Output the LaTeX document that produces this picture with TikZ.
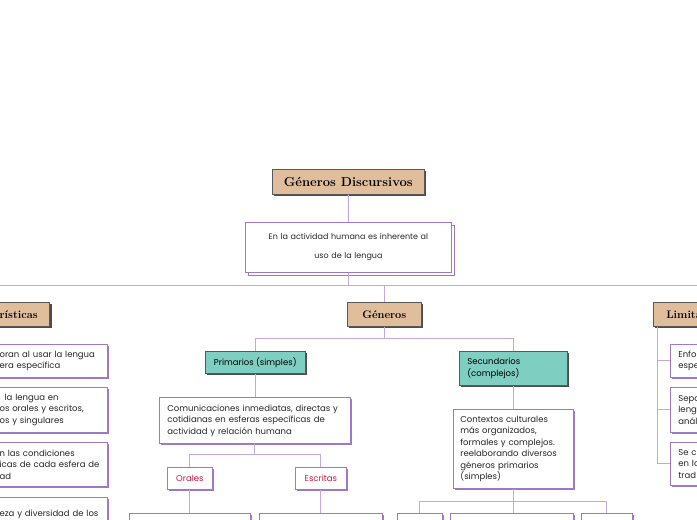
\documentclass[tikz,border=0pt]{standalone}
\usepackage{fontspec}
\setsansfont{Poppins}
\usetikzlibrary{positioning, shadows}
\definecolor{tanfill}{HTML}{E0BE9C}
\definecolor{tealfill}{HTML}{7ECFC2}
\definecolor{boxpurple}{HTML}{9F78C9}
\definecolor{linkpurple}{HTML}{C4A7DE}
\definecolor{tagred}{HTML}{D4163F}
\tikzset{
  topic/.style = {rectangle, draw=black!65, fill=tanfill, line width=0.6pt, inner xsep=10pt, minimum height=24pt,
    font=\fontsize{11}{12}\selectfont\bfseries,
    general shadow={shadow xshift=2pt, shadow yshift=-2pt, fill=black!70}},
  subtopic/.style = {topic, fill=tealfill, inner xsep=4pt, font=\sffamily\fontsize{8.5}{11.5}\selectfont},
  box/.style = {rectangle, draw=boxpurple, fill=white, line width=0.8pt, text=black!85,
    font=\sffamily\fontsize{8.5}{11.5}\selectfont},
  leaf/.style = {box, align=left, general shadow={shadow xshift=1.5pt, shadow yshift=-1.5pt, fill=boxpurple}},
  note/.style = {box, align=center, general shadow={shadow xshift=2.5pt, shadow yshift=-2.5pt, draw=boxpurple, fill=white, line width=0.8pt}},
  tag/.style = {leaf, text=tagred, align=center, minimum height=22pt},
  link/.style = {draw=linkpurple, line width=0.9pt}
}

\begin{document}
\begin{tikzpicture}[x=1pt, y=-1pt]
  \useasboundingbox (0,0) rectangle (697,520);
  \clip (0,0) rectangle (697,520);

  % Tema central
  \node[topic, minimum width=152pt, minimum height=25pt, inner xsep=4pt, anchor=north west,
    font=\fontsize{13}{14}\selectfont\bfseries] (title) at (272,169) {Géneros Discursivos};
  \node[note, text width=186pt, inner xsep=10pt, minimum height=50pt, anchor=north west,
    font=\sffamily\fontsize{8}{19}\selectfont] (intro) at (245,222) {En la actividad humana es inherente al\\uso de la lengua};

  % Ramas principales
  \node[topic, text width=100pt, align=right, inner xsep=12pt, anchor=north east] (carac) at (50,302) {rísticas};
  \node[topic, minimum width=74pt, anchor=north west] (gen) at (347,302) {Géneros};
  \node[topic, text width=100pt, align=left, inner xsep=13pt, anchor=north west] (limit) at (653,302) {Limita};

  % Características
  \node[leaf, text width=106pt, inner xsep=2pt, minimum height=33pt, anchor=north east] (car1) at (108,344) {oran al usar la lengua\\era específica};
  \node[leaf, text width=106pt, inner xsep=2pt, minimum height=45pt, anchor=north east] (car2) at (108,387) {\hspace*{5pt}la lengua en\\os orales y escritos,\\os y singulares};
  \node[leaf, text width=106pt, inner xsep=2pt, minimum height=44pt, anchor=north east] (car3) at (108,442) {n las condiciones\\icas de cada esfera de\\ad};
  \node[leaf, text width=106pt, inner xsep=2pt, minimum height=44pt, anchor=north east] (car4) at (108,497) {eza y diversidad de los\\s discursivos es vasta};

  % Géneros
  \node[subtopic, minimum width=100pt, minimum height=22pt, anchor=north west] (prim) at (205,351) {Primarios (simples)};
  \node[subtopic, text width=92pt, align=left, inner xsep=8pt, minimum height=34pt, anchor=north west] (sec) at (459,351) {Secundarios\\(complejos)};

  \node[leaf, text width=175pt, inner xsep=8pt, minimum height=46pt, anchor=north west] (comun) at (159,397) {Comunicaciones inmediatas, directas y\\cotidianas en esferas específicas de\\actividad y relación humana};
  \node[leaf, text width=106pt, inner xsep=7pt, minimum height=79pt, anchor=north west] (contx) at (453,409) {Contextos culturales\\más organizados,\\formales y complejos.\\reelaborando diversos\\géneros primarios\\(simples)};

  \node[tag, minimum width=45pt, anchor=north west] (orales) at (167,467) {Orales};
  \node[tag, minimum width=51pt, anchor=north west] (escritas) at (295,467) {Escritas};

  \node[leaf, minimum width=121pt, minimum height=30pt, anchor=north west] (oralesA) at (129,513) {};
  \node[leaf, minimum width=123pt, minimum height=30pt, anchor=north west] (escritasA) at (259,513) {};
  \node[leaf, minimum width=45pt, minimum height=30pt, anchor=north west] (secA) at (397,513) {};
  \node[leaf, minimum width=123pt, minimum height=30pt, anchor=north west] (secB) at (450,513) {};
  \node[leaf, minimum width=51pt, minimum height=30pt, anchor=north west] (secC) at (581,513) {};

  % Limitaciones
  \node[leaf, text width=100pt, inner xsep=8pt, minimum height=33pt, anchor=north west] (lim1) at (670,344) {Enfo\\espe};
  \node[leaf, text width=100pt, inner xsep=8pt, minimum height=45pt, anchor=north west] (lim2) at (670,387) {Sepa\\leng\\anál};
  \node[leaf, text width=100pt, inner xsep=8pt, minimum height=43pt, anchor=north west] (lim3) at (670,442) {Se c\\en lo\\trad};

  % Conexiones
  \draw[link] (title) -- (intro);
  \draw[link] (intro.south) -- ++(0,13) coordinate (bus);
  \draw[link] (carac.north) |- (bus) -| (limit.north);
  \draw[link] (bus) -| (gen.north);

  \draw[link] (gen.south) -- ++(0,12) coordinate (genbus);
  \draw[link] (prim.north) |- (genbus) -| (sec.north);
  \draw[link] (prim.south) -- (prim.south |- comun.north);
  \draw[link] (sec.south) -- (sec.south |- contx.north);

  \draw[link] (comun.south) -- ++(0,11) coordinate (combus);
  \draw[link] (orales.north) |- (combus) -| (escritas.north);
  \draw[link] (orales) -- (oralesA);
  \draw[link] (escritas) -- (escritasA);

  \draw[link] (contx.south) -- ++(0,13) coordinate (secbus);
  \draw[link] (secA.north) |- (secbus) -| (secC.north);
  \draw[link] (secbus) -- (secbus |- secB.north);

  \coordinate (limroot) at ([xshift=4pt]limit.south west);
  \foreach \b in {lim1,lim2,lim3}
    \draw[link] (limroot) |- (\b.west);
\end{tikzpicture}
\end{document}
